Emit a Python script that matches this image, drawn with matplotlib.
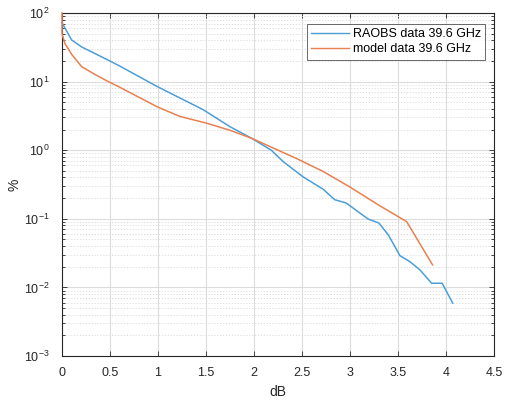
import matplotlib.pyplot as plt
import numpy as np
from matplotlib.ticker import LogLocator, NullFormatter

plt.rcParams["font.family"] = ["Liberation Sans", "DejaVu Sans"]
plt.rcParams["mathtext.default"] = "regular"

# exceedance curves, attenuation in dB vs percentage of time
raobs_db = [0.0, 0.10, 0.205, 0.48, 0.60, 0.74, 0.99, 1.47, 1.75, 1.976,
            2.18, 2.305, 2.51, 2.72, 2.84, 2.96, 3.19, 3.30, 3.40, 3.52,
            3.625, 3.73, 3.85, 3.96, 4.07]
raobs_pct = [72, 40.5, 32, 20.6, 16.9, 13.2, 8.5, 3.9, 2.2, 1.49,
             1.0, 0.68, 0.41, 0.27, 0.19, 0.17, 0.099, 0.087, 0.058, 0.029,
             0.0237, 0.0179, 0.0115, 0.0115, 0.0059]

model_db = [0.0, 0.0, 0.03, 0.10, 0.205, 0.34, 0.47, 0.60, 0.99, 1.23,
            1.51, 1.75, 1.976, 2.44, 2.72, 3.0, 3.31, 3.59, 3.86]
model_pct = [100, 50, 36, 25, 16.5, 12.8, 10.2, 8.3, 4.3, 3.1,
             2.47, 1.95, 1.49, 0.76, 0.49, 0.29, 0.155, 0.091, 0.0213]

x_ticks = [0, 0.5, 1, 1.5, 2, 2.5, 3, 3.5, 4, 4.5]
x_labels = ["0", "0.5", "1", "1.5", "2", "2.5", "3", "3.5", "4", "4.5"]

fig = plt.figure(figsize=(5.07, 4.01), dpi=100)
ax = fig.add_axes([62 / 507, 45 / 401, 432 / 507, 343 / 401])

ax.semilogy(raobs_db, raobs_pct, color="#4a9fd8", linewidth=1.1,
            label="RAOBS data 39.6 GHz", zorder=3, clip_on=False)
ax.semilogy(model_db, model_pct, color="#e8804f", linewidth=1.1,
            label="model data 39.6 GHz", zorder=3, clip_on=False)

ax.set_xlim(0, 4.5)
ax.set_ylim(1e-3, 1e2)
ax.set_xticks(x_ticks)
ax.set_xticklabels(x_labels)
ax.yaxis.set_major_locator(LogLocator(base=10, numticks=10))
ax.yaxis.set_minor_locator(LogLocator(base=10, subs=np.arange(2, 10), numticks=20))
ax.yaxis.set_minor_formatter(NullFormatter())

ax.grid(True, which="major", color="#dcdcdc", linewidth=0.8, linestyle="-")
ax.grid(True, which="minor", axis="y", color="#d8d8d8", linewidth=0.6,
        linestyle=(0, (1.5, 2)))
ax.set_axisbelow(True)

ax.tick_params(which="both", direction="in", top=True, right=True,
               labelsize=9, colors="#262626", width=0.6)
ax.tick_params(which="major", length=3.5)
ax.tick_params(which="minor", length=2)
ax.tick_params(axis="x", pad=8)
ax.tick_params(axis="y", pad=9)
for spine in ax.spines.values():
    spine.set_color("#262626")
    spine.set_linewidth(0.8)

ax.set_xlabel("dB", fontsize=10, color="#262626", labelpad=4)
ax.set_ylabel("%", fontsize=10, color="#262626", labelpad=2)

leg = ax.legend(loc="upper right", bbox_to_anchor=(0.9795, 0.968), fontsize=9,
                frameon=True, fancybox=False, edgecolor="#262626",
                handlelength=3.0, borderpad=0.35, labelspacing=0.25,
                handletextpad=0.3, borderaxespad=0)
leg.get_frame().set_linewidth(0.6)
leg.set_zorder(5)
for line in leg.get_lines():
    line.set_linewidth(1.0)

fig.savefig("out.png", dpi=100)
